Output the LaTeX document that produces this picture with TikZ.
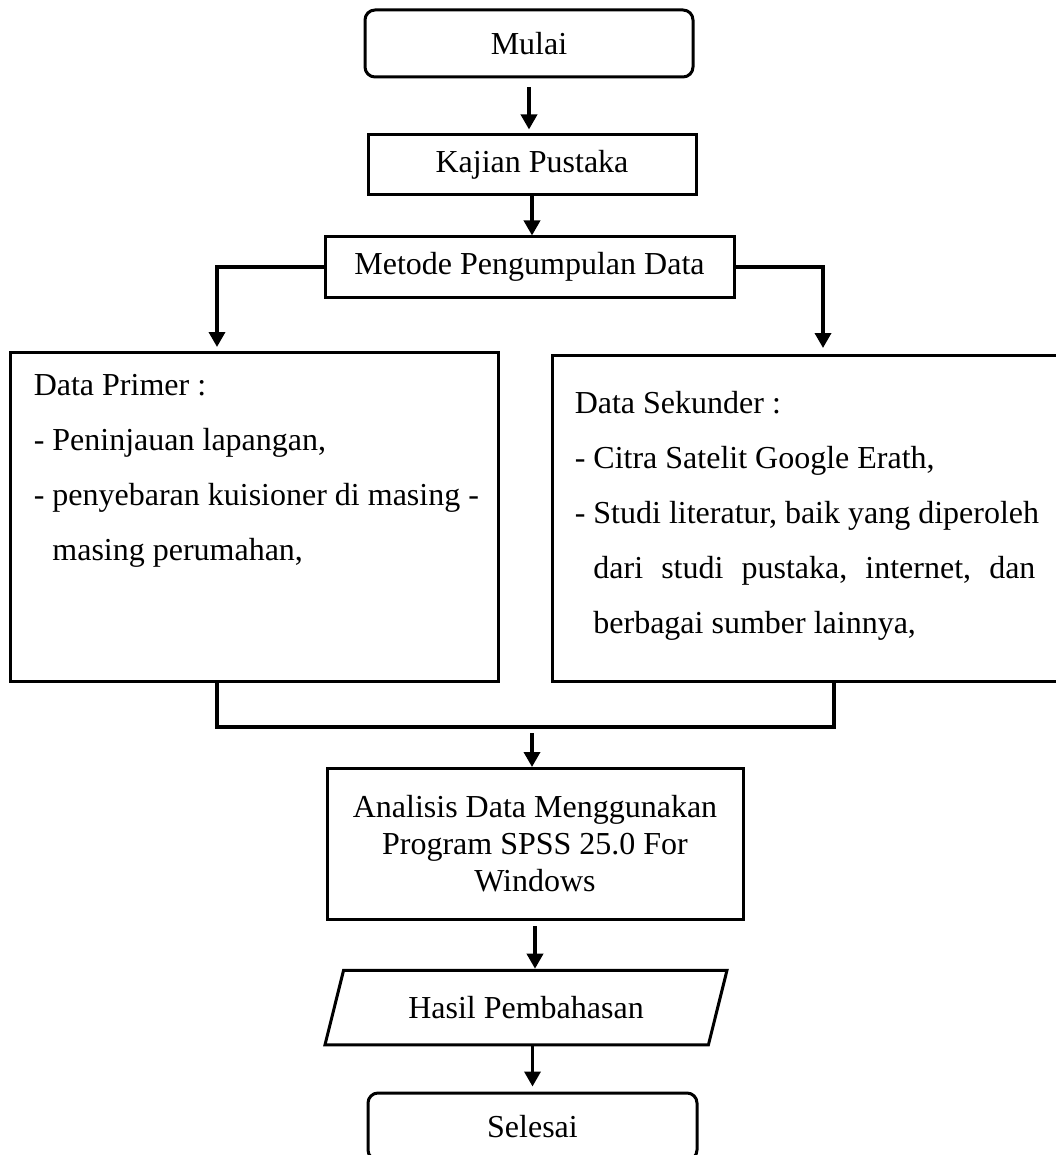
\documentclass[tikz,border=0pt]{standalone}
\usepackage{fontspec}
\setmainfont{Liberation Serif}
\usepackage{tikz}
\usetikzlibrary{arrows.meta,shapes.geometric}
\tikzset{
        fc_base/.style = {align=center, inner sep=0pt, text centered,
            font=\fontsize{32}{37}\selectfont, line width=3pt, draw=black},
        fc_term/.style = {fc_base, rectangle, rounded corners=10pt,
            minimum width=328pt, minimum height=67pt},
        fc_proc/.style = {fc_base, rectangle, minimum height=60pt},
        fc_io/.style = {fc_base, trapezium, trapezium left angle=76,
            trapezium right angle=104, trapezium stretches body,
            inner xsep=0pt, inner ysep=26pt, minimum width=402pt},
        fc_box/.style = {rectangle, draw=black, line width=3pt, inner sep=0pt},
        fc_txt/.style = {align=left, inner sep=0pt, anchor=north west,
            font=\fontsize{32}{55}\selectfont}
    }

\begin{document}
\begin{tikzpicture}[x=1pt,y=-1pt,line width=3.5pt,
            ->,>={Triangle[width=16pt,length=15pt]}]
            \useasboundingbox (0,0) rectangle (1055,1155);
            \node [fc_term] (mulai) at (529,43.5) {Mulai}; % START
            \node [fc_proc, minimum width=328pt] (kajian) at (532,165) {Kajian Pustaka};
            \node [fc_proc, minimum width=409pt] (metode) at (529.5,267) {Metode Pengumpulan Data};
            % data boxes
            \node [fc_box, minimum width=488pt, minimum height=329pt] (primer) at (254,516.5) {};
            \node [fc_box, minimum width=516pt, minimum height=326pt] (sekunder) at (810,518) {};
            \node [fc_txt] (primer_txt) at (32,373) {Data Primer :\\
                - Peninjauan lapangan,\\
                - penyebaran kuisioner di masing -\\
                \hphantom{- }masing perumahan,};
            \node [fc_txt] (sekunder_txt) at (573,390) {Data Sekunder :\\
                - Citra Satelit Google Erath,\\
                - Studi literatur, baik yang diperoleh\\
                \hphantom{- }\hbox to 442pt{dari\hfill studi\hfill pustaka,\hfill internet,\hfill dan}\\
                \hphantom{- }berbagai sumber lainnya,};
            \node [fc_proc, minimum width=416pt, minimum height=151pt] (analisis) at (535,844)
                {Analisis Data Menggunakan\\Program SPSS 25.0 For\\Windows};
            \node [fc_io] (hasil) at (526,1007.5) {Hasil Pembahasan};
            \node [fc_term, minimum width=329pt] (selesai) at (532.5,1126.5) {Selesai}; % END
            \coordinate (c_prim) at (217,352);
            \coordinate (c_sek) at (823,355);
            \coordinate (j_l) at (217,681);
            \coordinate (j_r) at (834,681);
            \coordinate (j_m) at (532,727);
            % arrows
            \draw [shorten <=9pt, shorten >=4pt] (mulai) -- (mulai |- kajian.north);
            \draw (kajian) -- (kajian |- metode.north);
            \draw [shorten >=5pt] (metode.west) -| (c_prim);
            \draw [shorten >=7pt] (metode.east) -| (c_sek);
            \draw [-] (j_l) |- (j_m) -| (j_r);
            \draw [shorten <=6pt] (j_m) -- (j_m |- analisis.north);
            \draw [shorten <=5pt] (analisis.south) -- (analisis.south |- hasil.north);
            \draw [shorten >=5pt] (hasil.south -| selesai.north) -- (selesai.north);
        \end{tikzpicture}
\end{document}
